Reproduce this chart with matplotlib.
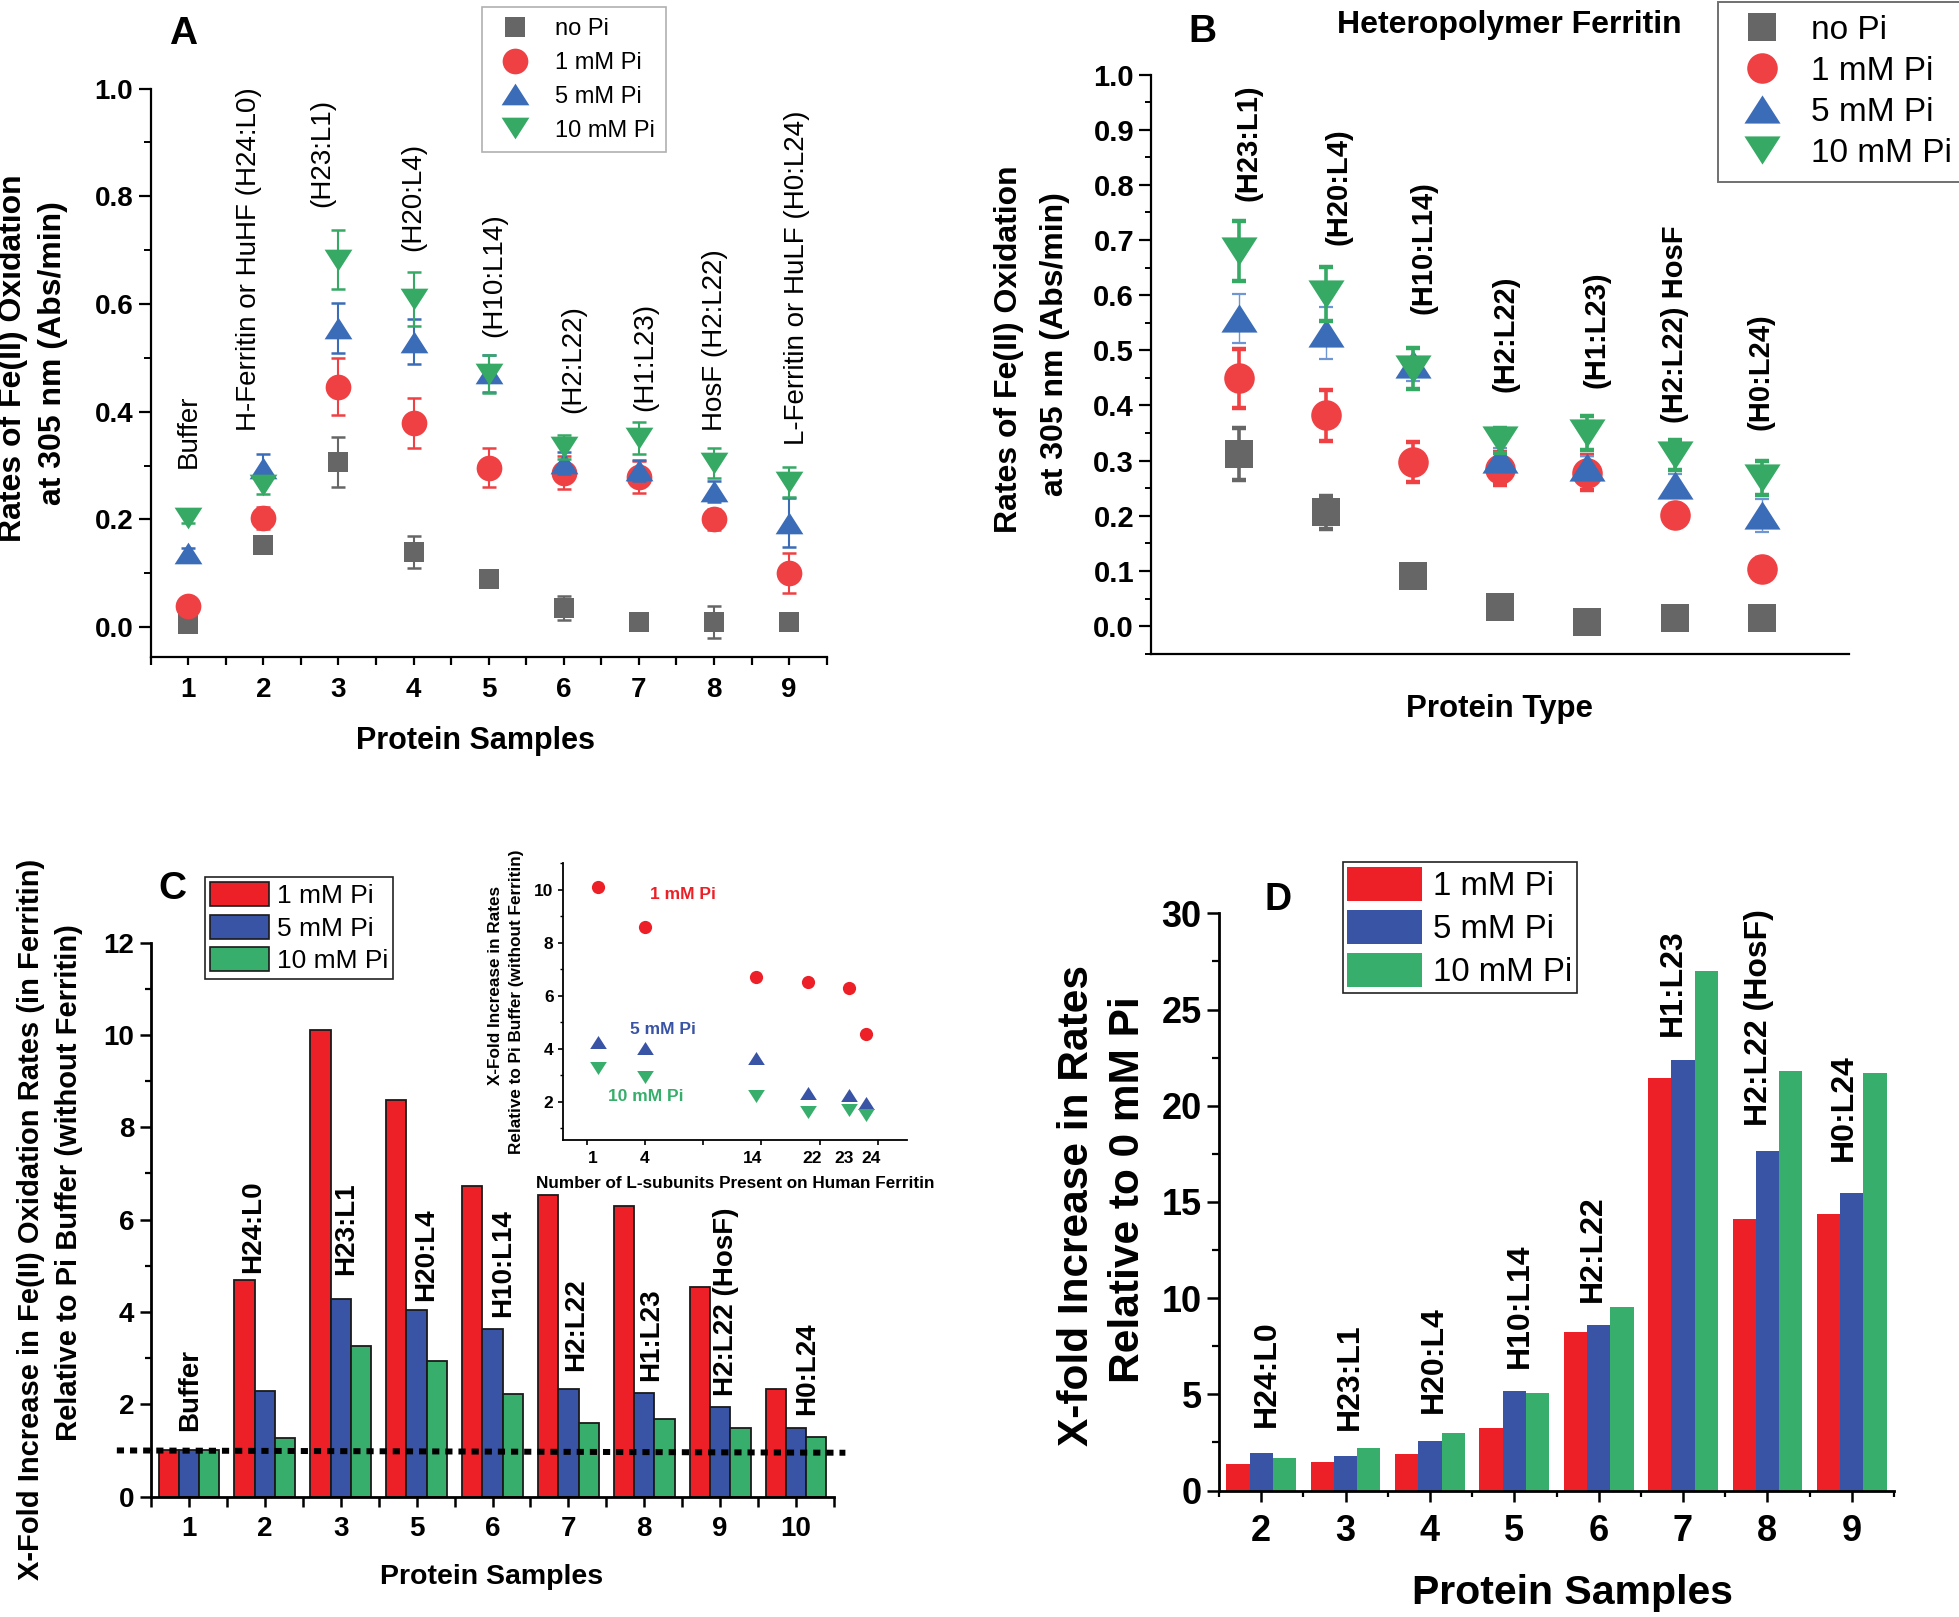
import matplotlib

matplotlib.use('Agg')

import matplotlib.pyplot as plt
from matplotlib.lines import Line2D
from matplotlib.patches import Patch
from matplotlib.ticker import MultipleLocator, FormatStrFormatter

plt.rcParams['font.family'] = ['Liberation Sans', 'DejaVu Sans']
plt.rcParams['font.weight'] = 'bold'
plt.rcParams['axes.linewidth'] = 1.6

W, H = 1959, 1617

# ---------------- data ----------------
# Panel A: rates of Fe(II) oxidation (Abs/min), samples 1-9
a_samples = [1, 2, 3, 4, 5, 6, 7, 8, 9]
a_labels = ['Buffer', 'H-Ferritin or HuHF (H24:L0)', '(H23:L1)', '(H20:L4)', '(H10:L14)',
            '(H2:L22)', '(H1:L23)', 'HosF (H2:L22)', 'L-Ferritin or HuLF (H0:L24)']
a_no = [0.005, 0.153, 0.307, 0.139, 0.090, 0.035, 0.010, 0.010, 0.010]
a_no_err = [0.005, 0.015, 0.046, 0.030, 0.015, 0.022, 0.012, 0.030, 0.012]
a_1 = [0.040, 0.203, 0.446, 0.379, 0.296, 0.287, 0.279, 0.200, 0.100]
a_1_err = [0.010, 0.020, 0.053, 0.046, 0.036, 0.030, 0.030, 0.020, 0.037]
a_5 = [0.137, 0.296, 0.555, 0.530, 0.471, 0.305, 0.291, 0.252, 0.194]
a_5_err = [0.010, 0.025, 0.046, 0.042, 0.035, 0.020, 0.020, 0.020, 0.046]
a_10 = [0.203, 0.263, 0.682, 0.610, 0.470, 0.335, 0.351, 0.305, 0.270]
a_10_err = [0.010, 0.015, 0.055, 0.050, 0.035, 0.022, 0.030, 0.028, 0.028]

# Panel B: heteropolymer ferritin
b_labels = ['(H23:L1)', '(H20:L4)', '(H10:L14)', '(H2:L22)', '(H1:L23)', '(H2:L22) HosF', '(H0:L24)']
b_no = [0.312, 0.206, 0.091, 0.034, 0.007, 0.014, 0.015]
b_no_err = [0.047, 0.030, 0.020, 0.020, 0.020, 0.020, 0.020]
b_1 = [0.449, 0.382, 0.298, 0.285, 0.278, 0.201, 0.104]
b_1_err = [0.054, 0.046, 0.036, 0.030, 0.032, 0.020, 0.020]
b_5 = [0.558, 0.532, 0.475, 0.303, 0.289, 0.255, 0.201]
b_5_err = [0.044, 0.047, 0.030, 0.020, 0.020, 0.020, 0.030]
b_10 = [0.680, 0.603, 0.467, 0.337, 0.350, 0.310, 0.269]
b_10_err = [0.055, 0.049, 0.037, 0.023, 0.031, 0.027, 0.031]

# Panel C: x-fold increase relative to Pi buffer
c_ticks = ['1', '2', '3', '5', '6', '7', '8', '9', '10']
c_labels = ['Buffer', 'H24:L0', 'H23:L1', 'H20:L4', 'H10:L14', 'H2:L22', 'H1:L23', 'H2:L22 (HosF)', 'H0:L24']
c_1 = [1.00, 4.70, 10.11, 8.58, 6.72, 6.53, 6.30, 4.55, 2.34]
c_5 = [1.00, 2.29, 4.27, 4.04, 3.63, 2.34, 2.25, 1.95, 1.49]
c_10 = [1.00, 1.26, 3.26, 2.93, 2.22, 1.60, 1.69, 1.48, 1.30]

# inset of C: number of L-subunits, uses the C values of samples 3,5,6,7,8,9
inset_lsub = ['1', '4', '14', '22', '23', '24']
inset_idx = [2, 3, 4, 5, 6, 7]
inset_pos = [0.2, 1.0, 2.9, 3.8, 4.5, 4.8]
inset_label_pos = [0.11, 0.99, 2.85, 3.87, 4.42, 4.89]

# Panel D: x-fold increase relative to 0 mM Pi
d_ticks = [2, 3, 4, 5, 6, 7, 8, 9]
d_labels = ['H24:L0', 'H23:L1', 'H20:L4', 'H10:L14', 'H2:L22', 'H1:L23', 'H2:L22 (HosF)', 'H0:L24']
d_1 = [1.36, 1.47, 1.88, 3.24, 8.24, 21.45, 14.11, 14.37]
d_5 = [1.93, 1.80, 2.58, 5.18, 8.60, 22.38, 17.64, 15.48]
d_10 = [1.70, 2.21, 2.99, 5.07, 9.55, 26.99, 21.79, 21.71]

pi_names = ['no Pi', '1 mM Pi', '5 mM Pi', '10 mM Pi']

# ---------------- styles ----------------
gray, red_m, blue_m, green_m = '#666666', '#ef4043', '#3b6cb7', '#36a964'
bar_red, bar_blue, bar_green = '#ed1f27', '#3953a5', '#37ae6b'
tri_up = [(-1, -0.78), (1, -0.78), (0, 0.78), (-1, -0.78)]
tri_dn = [(-1, 0.78), (1, 0.78), (0, -0.78), (-1, 0.78)]


def box(l, t, r, b):
	return [l / W, 1 - b / H, (r - l) / W, (b - t) / H]


def ftext(x, y, s, **kw):
	fig.text(x / W, 1 - y / H, s, **kw)


def clean(ax, lw=1.6):
	ax.spines['top'].set_visible(False)
	ax.spines['right'].set_visible(False)
	for s in ('left', 'bottom'):
		ax.spines[s].set_linewidth(lw)


fig = plt.figure(figsize=(W / 100, H / 100), dpi=100)

# ================= Panel A =================
axA = fig.add_axes(box(150.7, 88.6, 826.6, 656.7))
clean(axA)
seriesA = [(a_no, a_no_err, gray, 's', 14.5), (a_1, a_1_err, red_m, 'o', 18.5),
           (a_5, a_5_err, blue_m, tri_up, 20), (a_10, a_10_err, green_m, tri_dn, 20)]
for i, (v, e, c, m, s) in enumerate(seriesA):
	axA.errorbar(a_samples, v, yerr=e, fmt='none', ecolor=c, elinewidth=1.5,
	             capsize=5, capthick=1.8, zorder=2 + 2 * i)
	axA.plot(a_samples, v, ls='none', marker=m, ms=s, color=c, mew=0, zorder=3 + 2 * i)
axA.set_xlim(0.5, 9.5)
axA.set_ylim(-0.055, 1.0)
axA.set_xticks(a_samples)
axA.xaxis.set_minor_locator(MultipleLocator(0.5))
axA.yaxis.set_major_locator(MultipleLocator(0.2))
axA.yaxis.set_minor_locator(MultipleLocator(0.1))
axA.yaxis.set_major_formatter(FormatStrFormatter('%.1f'))
axA.tick_params(axis='y', which='major', length=9, width=1.6, labelsize=20, pad=3.5)
axA.tick_params(axis='y', which='minor', length=5, width=1.4)
axA.tick_params(axis='x', which='both', length=5.5, width=1.6, labelsize=20, pad=9)
a_ann_x = [1.0, 1.81, 2.78, 3.99, 5.07, 6.12, 7.09, 8.01, 9.1]
a_ann_y = [0.296, 0.365, 0.781, 0.698, 0.538, 0.397, 0.402, 0.365, 0.339]
for x, y, s in zip(a_ann_x, a_ann_y, a_labels):
	axA.text(x, y, s, rotation=90, ha='center', va='bottom', fontsize=20, fontweight='normal')
hA = [Line2D([], [], ls='none', marker=m, ms=s, color=c, mew=0) for _, _, c, m, s in seriesA]
legA = axA.legend(hA, pi_names, loc='upper left', bbox_to_anchor=(482 / W, 1 - 7.5 / H),
                  bbox_transform=fig.transFigure, borderaxespad=0, fancybox=False,
                  prop={'size': 17, 'weight': 'normal'}, borderpad=0.45, labelspacing=0.5,
                  handlelength=1.9, handletextpad=0.75, edgecolor='#b0b0b0', framealpha=1)
legA.get_frame().set_linewidth(1.2)
ftext(183.5, 33.5, 'A', fontsize=28, ha='center', va='center')
ftext(13.5, 358, 'Rates of Fe(II) Oxidation', rotation=90, fontsize=23, ha='center', va='center')
ftext(52.8, 353, 'at 305 nm (Abs/min)', rotation=90, fontsize=23, ha='center', va='center')
ftext(476, 741, 'Protein Samples', fontsize=22, ha='center', va='center')

# ================= Panel B =================
axB = fig.add_axes(box(1151.4, 74.6, 1849, 654.2))
clean(axB)
b_x = list(range(1, len(b_labels) + 1))
seriesB = [(b_no, b_no_err, gray, 's', 19.5, 2.6), (b_1, b_1_err, red_m, 'o', 22, 2.6),
           (b_5, b_5_err, blue_m, tri_up, 26, 1.0), (b_10, b_10_err, green_m, tri_dn, 26, 2.6)]
for i, (v, e, c, m, s, lw) in enumerate(seriesB):
	ec = '#6f95d3' if lw < 2 else c
	axB.errorbar(b_x, v, yerr=e, fmt='none', ecolor=ec, elinewidth=lw,
	             capsize=5, capthick=lw + 0.6, zorder=2 + 2 * i)
	axB.plot(b_x, v, ls='none', marker=m, ms=s, color=c, mew=0, zorder=3 + 2 * i)
axB.set_xlim(0, 8)
axB.set_ylim(-0.051, 1.0)
axB.set_xticks([])
axB.yaxis.set_major_locator(MultipleLocator(0.1))
axB.yaxis.set_minor_locator(MultipleLocator(0.05))
axB.yaxis.set_major_formatter(FormatStrFormatter('%.1f'))
axB.tick_params(axis='y', which='major', length=8.5, width=1.6, labelsize=21, pad=4)
axB.tick_params(axis='y', which='minor', length=4.5, width=1.4)
b_ann_x = [1.11, 2.15, 3.12, 4.06, 5.11, 6.0, 6.99]
b_ann_y = [0.77, 0.691, 0.565, 0.424, 0.431, 0.368, 0.355]
for x, y, s in zip(b_ann_x, b_ann_y, b_labels):
	axB.text(x, y, s, rotation=90, ha='center', va='bottom', fontsize=21)
hB = [Line2D([], [], ls='none', marker=m, ms=s, color=c, mew=0) for _, _, c, m, s, _ in seriesB]
legB = axB.legend(hB, pi_names, loc='upper left', bbox_to_anchor=(1717.5 / W, 1 - 1.5 / H),
                  bbox_transform=fig.transFigure, borderaxespad=0, fancybox=False,
                  prop={'size': 24, 'weight': 'normal'}, borderpad=0.4, labelspacing=0.3,
                  handlelength=1.85, handletextpad=0.55, edgecolor='#707070', framealpha=1)
legB.get_frame().set_linewidth(1.4)
ftext(1202, 31.6, 'B', fontsize=28, ha='center', va='center')
ftext(1509, 25, 'Heteropolymer Ferritin', fontsize=23, ha='center', va='center')
ftext(1008.6, 349.5, 'Rates of Fe(II) Oxidation', rotation=90, fontsize=23, ha='center', va='center')
ftext(1054.6, 344.5, 'at 305 nm (Abs/min)', rotation=90, fontsize=23, ha='center', va='center')
ftext(1500, 709, 'Protein Type', fontsize=22.5, ha='center', va='center')

# ================= Panel C =================
axC = fig.add_axes(box(151, 942.6, 834, 1496.6))
clean(axC, 2.0)
c_x = list(range(1, len(c_ticks) + 1))
wc = 0.267
for off, vals, col in ((-wc, c_1, bar_red), (0, c_5, bar_blue), (wc, c_10, bar_green)):
	axC.bar([x + off for x in c_x], vals, wc, color=col, edgecolor='#1a1a1a', linewidth=1.3, zorder=2)
axC.plot([0.05, 9.65], [1.0, 0.95], color='black', lw=4.3, ls=(0, (1.2, 1.0)),
         clip_on=False, zorder=6)
axC.set_xlim(0.5, 9.5)
axC.set_ylim(0, 12)
axC.set_xticks(c_x)
axC.set_xticklabels(c_ticks)
axC.xaxis.set_minor_locator(MultipleLocator(0.5))
axC.yaxis.set_major_locator(MultipleLocator(2))
axC.yaxis.set_minor_locator(MultipleLocator(1))
axC.tick_params(axis='y', which='major', length=8, width=1.8, labelsize=20, pad=4)
axC.tick_params(axis='y', which='minor', length=4.5, width=1.6)
axC.tick_params(axis='x', which='both', length=7, width=1.8, labelsize=20, pad=7)
c_ann_x = [1.02, 1.85, 3.07, 4.12, 5.14, 6.10, 7.09, 8.08, 9.15]
c_ann_y = [1.42, 4.85, 4.81, 4.24, 3.89, 2.72, 2.50, 2.18, 1.77]
for x, y, s in zip(c_ann_x, c_ann_y, c_labels):
	axC.text(x, y, s, rotation=90, ha='center', va='bottom', fontsize=20, zorder=7)
hC = [Patch(facecolor=c, edgecolor='#1a1a1a', linewidth=1.2) for c in (bar_red, bar_blue, bar_green)]
legC = axC.legend(hC, pi_names[1:], loc='upper left', bbox_to_anchor=(205 / W, 1 - 877 / H),
                  bbox_transform=fig.transFigure, borderaxespad=0, fancybox=False,
                  prop={'size': 19, 'weight': 'normal'}, borderpad=0.2, labelspacing=0.25,
                  handlelength=2.23, handleheight=1.02, handletextpad=0.28,
                  edgecolor='#222222', framealpha=1)
legC.get_frame().set_linewidth(1.2)
ftext(172, 889, 'C', fontsize=28, ha='center', va='center')
ftext(30.6, 1219, 'X-Fold Increase in Fe(II) Oxidation Rates (in Ferritin)', rotation=90,
      fontsize=21, ha='center', va='center')
ftext(69, 1183, 'Relative to Pi Buffer (without Ferritin)', rotation=90,
      fontsize=21, ha='center', va='center')
ftext(492, 1577, 'Protein Samples', fontsize=20.5, ha='center', va='center')

# ---------------- inset ----------------
axI = fig.add_axes(box(563.3, 863.3, 907, 1140))
axI.patch.set_alpha(0)
clean(axI, 1.3)
axI.plot(inset_pos, [c_1[i] for i in inset_idx], ls='none', marker='o', ms=9.5, color=bar_red, mew=0)
axI.plot(inset_pos, [c_5[i] for i in inset_idx], ls='none', marker=tri_up, ms=12, color=bar_blue, mew=0)
axI.plot(inset_pos, [c_10[i] for i in inset_idx], ls='none', marker=tri_dn, ms=12, color=bar_green, mew=0)
axI.set_xlim(-0.4, 5.5)
axI.set_ylim(0.55, 11)
axI.set_xticks(inset_label_pos)
axI.set_xticklabels(inset_lsub)
axI.xaxis.set_minor_locator(MultipleLocator(1))
axI.xaxis.remove_overlapping_locs = False
axI.yaxis.set_major_locator(MultipleLocator(2))
axI.yaxis.set_minor_locator(MultipleLocator(1))
axI.set_yticks([2, 4, 6, 8, 10])
axI.tick_params(axis='x', which='major', length=0, labelsize=12.5, pad=8)
axI.tick_params(axis='x', which='minor', length=3.5, width=1.2)
axI.tick_params(axis='y', which='major', length=3.5, width=1.2, labelsize=12.5, pad=3.5)
axI.tick_params(axis='y', which='minor', length=2.5, width=1.0)
axI.text(1.09, 9.82, '1 mM Pi', color=bar_red, fontsize=12.5, ha='left', va='center')
axI.text(0.74, 4.72, '5 mM Pi', color=bar_blue, fontsize=12.5, ha='left', va='center')
axI.text(0.37, 2.18, '10 mM Pi', color=bar_green, fontsize=12.5, ha='left', va='center')
ftext(495, 985, 'X-Fold Increase in Rates', rotation=90, fontsize=12.3, ha='center', va='center')
ftext(516, 1002, 'Relative to Pi Buffer (without Ferritin)', rotation=90, fontsize=12.3,
      ha='center', va='center')
ftext(735, 1183, 'Number of L-subunits Present on Human Ferritin', fontsize=12.3,
      ha='center', va='center')

# ================= Panel D =================
axD = fig.add_axes(box(1219, 913.3, 1894, 1490.6))
clean(axD, 2.0)
wd = 0.276
for off, vals, col in ((-wd, d_1, bar_red), (0, d_5, bar_blue), (wd, d_10, bar_green)):
	axD.bar([x + off for x in d_ticks], vals, wd, color=col, edgecolor='none', zorder=2)
axD.set_xlim(1.5, 9.5)
axD.set_ylim(0, 30)
axD.set_xticks(d_ticks)
axD.xaxis.set_minor_locator(MultipleLocator(0.5))
axD.yaxis.set_major_locator(MultipleLocator(5))
axD.yaxis.set_minor_locator(MultipleLocator(2.5))
axD.tick_params(axis='y', which='major', length=9, width=1.8, labelsize=26, pad=3.5)
axD.tick_params(axis='y', which='minor', length=5, width=1.6)
axD.tick_params(axis='x', which='major', length=8, width=1.8, labelsize=26, pad=9)
axD.tick_params(axis='x', which='minor', length=4.5, width=1.6)
d_ann_x = [2.07, 3.05, 4.05, 5.06, 5.93, 6.88, 7.90, 8.90]
d_ann_y = [3.30, 3.17, 4.02, 6.39, 9.81, 23.64, 18.93, 17.13]
for x, y, s in zip(d_ann_x, d_ann_y, d_labels):
	axD.text(x, y, s, rotation=90, ha='center', va='bottom', fontsize=23)
hD = [Patch(facecolor=c, edgecolor='none') for c in (bar_red, bar_blue, bar_green)]
legD = axD.legend(hD, pi_names[1:], loc='upper left', bbox_to_anchor=(1342.5 / W, 1 - 862 / H),
                  bbox_transform=fig.transFigure, borderaxespad=0, fancybox=False,
                  prop={'size': 23.8, 'weight': 'normal'}, borderpad=0.15, labelspacing=0.24,
                  handlelength=2.27, handleheight=1.2, handletextpad=0.32,
                  edgecolor='#222222', framealpha=1)
legD.get_frame().set_linewidth(1.2)
ftext(1278, 900, 'D', fontsize=27, ha='center', va='center')
ftext(1076.5, 1205, 'X-fold Increase in Rates', rotation=90, fontsize=30.5, ha='center', va='center')
ftext(1128.4, 1190, 'Relative to 0 mM Pi', rotation=90, fontsize=30.5, ha='center', va='center')
ftext(1572.5, 1593, 'Protein Samples', fontsize=29.5, ha='center', va='center')

fig.savefig('out.png', dpi=100)
